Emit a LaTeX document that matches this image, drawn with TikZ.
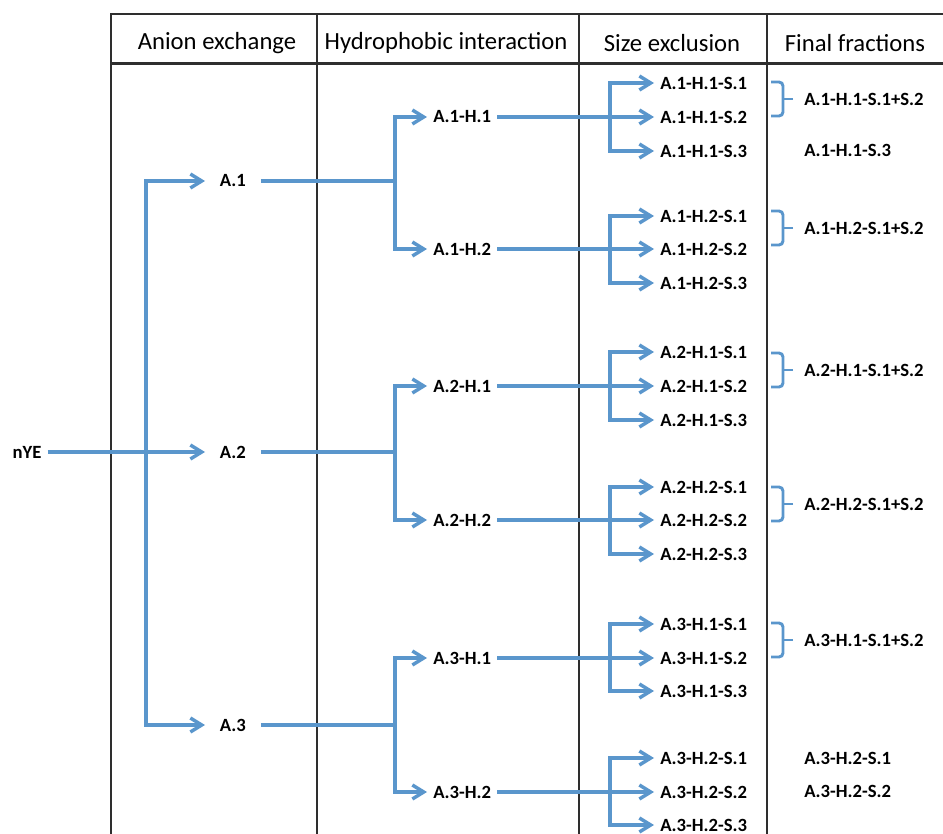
\documentclass[tikz,border=0pt]{standalone}
\usepackage{fontspec}
\setmainfont{Carlito}
\usepackage{tikz}
\usetikzlibrary{arrows.meta}
\definecolor{flowblue}{HTML}{5A96CC}
\definecolor{rulegray}{HTML}{2E2E2E}

\begin{document}
\begin{tikzpicture}[
  x=0.75pt, y=-0.75pt,
  head/.style={font=\fontsize{18.5}{22}\selectfont},
  tag/.style={font=\fontsize{14}{16}\selectfont\bfseries, inner xsep=4.5pt, inner ysep=1pt},
  anode/.style={tag, inner xsep=11pt, anchor=west},
  hnode/.style={tag, anchor=west},
  snode/.style={tag, anchor=west},
  final/.style={tag, anchor=west},
  rule/.style={draw=rulegray, line width=1.2pt},
  flow/.style={draw=flowblue, line width=2.6pt},
  arrow/.style={flow, -{Straight Barb[length=8.5pt, width=10.5pt]}},
  bracket/.style={draw=flowblue, line width=2.2pt, rounded corners=3pt}
]
\useasboundingbox (0,0) rectangle (943,834);

% table
\draw[rule] (111,834) -- (111,14) -- (943,14);
\draw[rule, line width=2.4pt] (111,63.5) -- (943,63.5);
\draw[rule] (317,14) -- (317,834);
\draw[rule] (579,14) -- (579,834);
\draw[rule] (767,14) -- (767,834);

\node[head] (hA) at (217,43) {Anion exchange};
\node[head] (hH) at (446,43) {Hydrophobic interaction};
\node[head] (hS) at (672,43) {Size exclusion};
\node[head] (hF) at (855,43) {Final fractions};

% junction columns
\coordinate (ja) at (146,0);
\coordinate (jh) at (395,0);
\coordinate (js) at (610,0);

% anion exchange
\node[tag] (nye) at (27,452) {nYE};
\node[anode] (a1) at (205,181) {A.1};
\node[anode] (a2) at (205,452) {A.2};
\node[anode] (a3) at (205,725) {A.3};
\draw[arrow] (a3 -| ja) |- (a1);
\draw[arrow] (a1 -| ja) |- (a3);
\draw[arrow] (nye) -- (a2);

% hydrophobic interaction
\node[hnode] (a1h1) at (427,117) {A.1-H.1};
\node[hnode] (a1h2) at (427,249) {A.1-H.2};
\node[hnode] (a2h1) at (427,386) {A.2-H.1};
\node[hnode] (a2h2) at (427,520) {A.2-H.2};
\node[hnode] (a3h1) at (427,658) {A.3-H.1};
\node[hnode] (a3h2) at (427,792) {A.3-H.2};
\draw[flow] (a1) -- (a1 -| jh);
\draw[arrow] (a1h2 -| jh) |- (a1h1);
\draw[arrow] (a1h1 -| jh) |- (a1h2);
\draw[flow] (a2) -- (a2 -| jh);
\draw[arrow] (a2h2 -| jh) |- (a2h1);
\draw[arrow] (a2h1 -| jh) |- (a2h2);
\draw[flow] (a3) -- (a3 -| jh);
\draw[arrow] (a3h2 -| jh) |- (a3h1);
\draw[arrow] (a3h1 -| jh) |- (a3h2);

% size exclusion
\node[snode] (a1h1s1) at (654,83) {A.1-H.1-S.1};
\node[snode] (a1h1s2) at (654,117) {A.1-H.1-S.2};
\node[snode] (a1h1s3) at (654,151) {A.1-H.1-S.3};
\draw[arrow] (a1h1) -- (a1h1s2);
\draw[arrow] (a1h1s3 -| js) |- (a1h1s1);
\draw[arrow] (a1h1s1 -| js) |- (a1h1s3);

\node[snode] (a1h2s1) at (654,216) {A.1-H.2-S.1};
\node[snode] (a1h2s2) at (654,249) {A.1-H.2-S.2};
\node[snode] (a1h2s3) at (654,283) {A.1-H.2-S.3};
\draw[arrow] (a1h2) -- (a1h2s2);
\draw[arrow] (a1h2s3 -| js) |- (a1h2s1);
\draw[arrow] (a1h2s1 -| js) |- (a1h2s3);

\node[snode] (a2h1s1) at (654,352) {A.2-H.1-S.1};
\node[snode] (a2h1s2) at (654,386) {A.2-H.1-S.2};
\node[snode] (a2h1s3) at (654,420) {A.2-H.1-S.3};
\draw[arrow] (a2h1) -- (a2h1s2);
\draw[arrow] (a2h1s3 -| js) |- (a2h1s1);
\draw[arrow] (a2h1s1 -| js) |- (a2h1s3);

\node[snode] (a2h2s1) at (654,487) {A.2-H.2-S.1};
\node[snode] (a2h2s2) at (654,520) {A.2-H.2-S.2};
\node[snode] (a2h2s3) at (654,554) {A.2-H.2-S.3};
\draw[arrow] (a2h2) -- (a2h2s2);
\draw[arrow] (a2h2s3 -| js) |- (a2h2s1);
\draw[arrow] (a2h2s1 -| js) |- (a2h2s3);

\node[snode] (a3h1s1) at (654,624) {A.3-H.1-S.1};
\node[snode] (a3h1s2) at (654,658) {A.3-H.1-S.2};
\node[snode] (a3h1s3) at (654,691) {A.3-H.1-S.3};
\draw[arrow] (a3h1) -- (a3h1s2);
\draw[arrow] (a3h1s3 -| js) |- (a3h1s1);
\draw[arrow] (a3h1s1 -| js) |- (a3h1s3);

\node[snode] (a3h2s1) at (654,758) {A.3-H.2-S.1};
\node[snode] (a3h2s2) at (654,792) {A.3-H.2-S.2};
\node[snode] (a3h2s3) at (654,825) {A.3-H.2-S.3};
\draw[arrow] (a3h2) -- (a3h2s2);
\draw[arrow] (a3h2s3 -| js) |- (a3h2s1);
\draw[arrow] (a3h2s1 -| js) |- (a3h2s3);

% final fractions
\node[final] (f11) at (798,99) {A.1-H.1-S.1+S.2};
\node[final] (f113) at (798,150) {A.1-H.1-S.3};
\node[final] (f12) at (798,228) {A.1-H.2-S.1+S.2};
\node[final] (f21) at (798,370) {A.2-H.1-S.1+S.2};
\node[final] (f22) at (798,504) {A.2-H.2-S.1+S.2};
\node[final] (f31) at (798,640) {A.3-H.1-S.1+S.2};
\node[final] (f321) at (798,758) {A.3-H.2-S.1};
\node[final] (f322) at (798,791) {A.3-H.2-S.2};
\draw[bracket] (f11.west) ++(-27,-17) -- ++(12,0) -- ++(0,34) -- ++(-12,0);
\draw[bracket] (f11.west) ++(-5,0) -- ++(-10,0);
\draw[bracket] (f12.west) ++(-27,-17) -- ++(12,0) -- ++(0,34) -- ++(-12,0);
\draw[bracket] (f12.west) ++(-5,0) -- ++(-10,0);
\draw[bracket] (f21.west) ++(-27,-17) -- ++(12,0) -- ++(0,34) -- ++(-12,0);
\draw[bracket] (f21.west) ++(-5,0) -- ++(-10,0);
\draw[bracket] (f22.west) ++(-27,-17) -- ++(12,0) -- ++(0,34) -- ++(-12,0);
\draw[bracket] (f22.west) ++(-5,0) -- ++(-10,0);
\draw[bracket] (f31.west) ++(-27,-17) -- ++(12,0) -- ++(0,34) -- ++(-12,0);
\draw[bracket] (f31.west) ++(-5,0) -- ++(-10,0);
\end{tikzpicture}
\end{document}
